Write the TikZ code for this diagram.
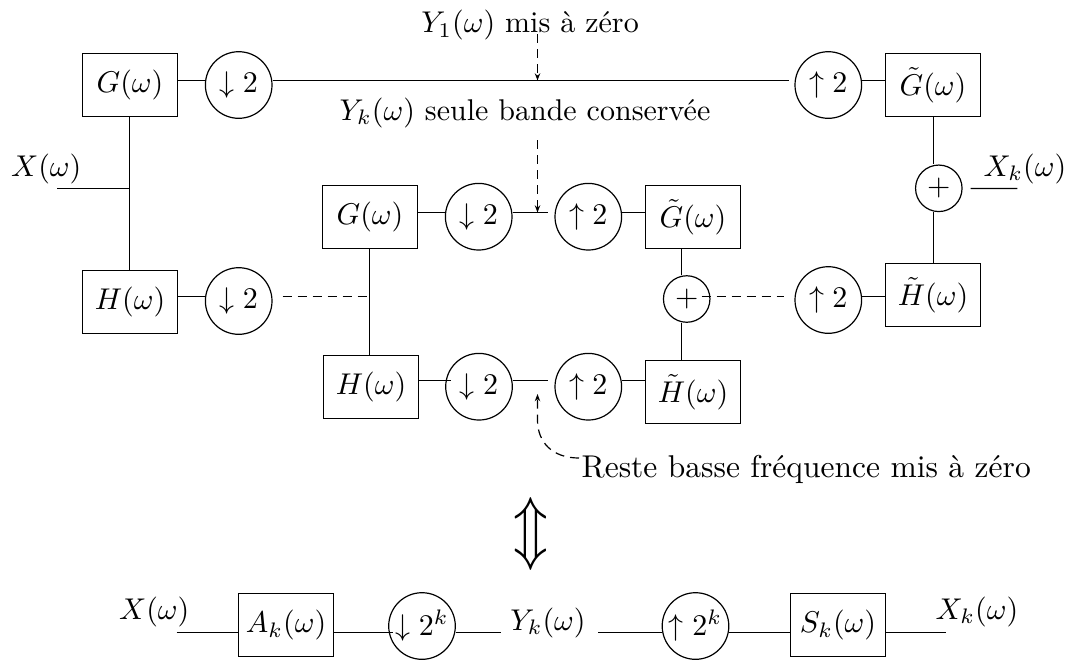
\documentclass[tikz,border=0pt]{standalone}
\usepackage{fontspec}
\usepackage{graphicx}
\usetikzlibrary{arrows.meta,calc}
\begin{document}
\begin{tikzpicture}[x=0.3333pt,y=-0.3333pt,
  box/.style={draw, line width=0.4pt, minimum width=31.6667pt, minimum height=21pt, inner sep=0pt},
  samp/.style={draw, circle, minimum size=22.2pt, inner sep=0pt},
  sum/.style={draw, circle, minimum size=15.5pt, inner sep=0pt},
  lbl/.style={inner sep=0pt},
  dwire/.style={dash pattern=on 3pt off 2pt},
  note/.style={dash pattern=on 3pt off 2pt, -{Stealth[length=2.4pt,width=1.8pt]}},
]
\useasboundingbox (0,0) rectangle (1067,661);
% line levels and vertical axes
\coordinate (LA) at (0,80.5);
\coordinate (LB) at (0,212.5);
\coordinate (LC) at (0,296.5);
\coordinate (LD) at (0,380.5);
\coordinate (LE) at (0,632.5);
\coordinate (vL) at (129.5,0);
\coordinate (vM) at (369.5,0);
\coordinate (vR2) at (681.5,0);
\coordinate (vR) at (933.5,0);

% top row
\node[box] (G1) at (130,85) {$G(\omega)$};
\node[samp] (D1) at (238.7,85) {$\downarrow 2$};
\node[samp] (U1) at (828.3,85) {$\uparrow 2$};
\node[box] (Gt1) at (933,85) {$\tilde{G}(\omega)$};
% second row
\node[box] (G2) at (370,217) {$G(\omega)$};
\node[samp] (D2) at (478.7,216.7) {$\downarrow 2$};
\node[samp] (U2) at (588.3,216.7) {$\uparrow 2$};
\node[box] (Gt2) at (693,217) {$\tilde{G}(\omega)$};
% third row
\node[box] (H1) at (130,302) {$H(\omega)$};
\node[samp] (D3) at (238.7,301) {$\downarrow 2$};
\node[sum] (P2) at (686.7,299) {$+$};
\node[samp] (U3) at (828.3,300) {$\uparrow 2$};
\node[box] (Ht1) at (933,295) {$\tilde{H}(\omega)$};
\node[sum] (P1) at (938.8,188.3) {$+$};
% fourth row
\node[box] (H2) at (371,387) {$H(\omega)$};
\node[samp] (D4) at (479,386.7) {$\downarrow 2$};
\node[samp] (U4) at (588.3,386.7) {$\uparrow 2$};
\node[box] (Ht2) at (693,392) {$\tilde{H}(\omega)$};

% labels
\node[lbl, anchor=base east] (Xl) at (82,176) {$X(\omega)$};
\node[lbl, anchor=base west] (Xkl) at (983,176) {$X_k(\omega)$};
\node[lbl, anchor=base] (Y1l) at (530,32.5) {$Y_1(\omega)$ mis à zéro};
\node[lbl, anchor=base] (Ykl) at (525,120) {$Y_k(\omega)$ seule bande conservée};
\node[lbl, anchor=base west] (Rl) at (581,477) {\fontsize{10.5}{12}\selectfont Reste basse fréquence mis à zéro};

% horizontal wires
\draw (G1.east |- LA) -- (D1.west |- LA);
\draw (D1.east |- LA) -- ($(U1.west |- LA)+(-5,0)$);
\draw (U1.east |- LA) -- (Gt1.west |- LA);

\draw (G2.east |- LB) -- (D2.west |- LB);
\draw (D2.east |- LB) -- ($(U2.west |- LB)+(-6,0)$);
\draw (U2.east |- LB) -- (Gt2.west |- LB);

\draw (H1.east |- LC) -- (D3.west |- LC);
\draw[dwire] ($(D3.east |- LC)+(10,0)$) -- (vM |- LC);
\draw[dwire] ($(P2.center |- LC)+(15,0)$) -- ($(U3.west |- LC)+(-10,0)$);
\draw (U3.east |- LC) -- (Ht1.west |- LC);

\draw (H2.east |- LD) -- ($(D4.west |- LD)+(6,0)$);
\draw (D4.east |- LD) -- ($(U4.west |- LD)+(-6,0)$);
\draw (U4.east |- LD) -- (Ht2.west |- LD);

% vertical wires
\coordinate (Xin) at (57.3,188.5);
\draw (vL |- G1.south) -- (vL |- H1.north);
\draw (Xin) -- (vL |- Xin);
\draw (vM |- G2.south) -- (vM |- H2.north);
\draw (vR2 |- Gt2.south) -- (vR2 |- P2.north);
\draw (vR2 |- P2.south) -- (vR2 |- Ht2.north);
\draw (vR |- Gt1.south) -- (vR |- P1.north);
\draw (vR |- P1.south) -- (vR |- Ht1.north);
\coordinate (Xkout) at (1017.3,188.5);
\draw ($(P1.east)+(8,0.2)$) -- (Xkout);

% annotation arrows
\coordinate (a1s) at (537.5,34);
\draw[note] (a1s) -- (a1s |- LA);
\coordinate (a2s) at (537.5,140);
\draw[note] (a2s) -- (a2s |- LB);
\coordinate (a3s) at (579,458);
\coordinate (a3e) at (537.5,394);
\draw[note] (a3s) .. controls (552,458) and (537.5,442) .. (537.5,420) -- (a3e);

% equivalence
\node[lbl] (eq) at (531,534) {\scalebox{1.1}[1.35]{\fontsize{19}{20}\selectfont$\Updownarrow$}};

% bottom row
\node[box] (A) at (286,625) {$A_k(\omega)$};
\node[samp] (C1) at (422,626) {$\downarrow 2^k$};
\node[samp] (C2) at (695.5,626) {$\uparrow 2^k$};
\node[box] (S) at (838,625) {$S_k(\omega)$};
\node[lbl, anchor=base east] (Xbl) at (190,619) {$X(\omega)$};
\node[lbl, anchor=base] (Ykb) at (548,630) {$Y_k(\omega)$};
\node[lbl, anchor=base west] (Xkb) at (935,619) {$X_k(\omega)$};
\coordinate (bin) at (176.7,632.5);
\coordinate (bm1) at (500.7,632.5);
\coordinate (bm2) at (598.3,632.5);
\coordinate (bout) at (945.7,632.5);
\draw (bin) -- (A.west |- LE);
\draw (A.east |- LE) -- ($(C1.west |- LE)+(5,0)$);
\draw (C1.east |- LE) -- (bm1);
\draw (bm2) -- (C2.west |- LE);
\draw (C2.east |- LE) -- (S.west |- LE);
\draw (S.east |- LE) -- (bout);
\end{tikzpicture}
\end{document}
